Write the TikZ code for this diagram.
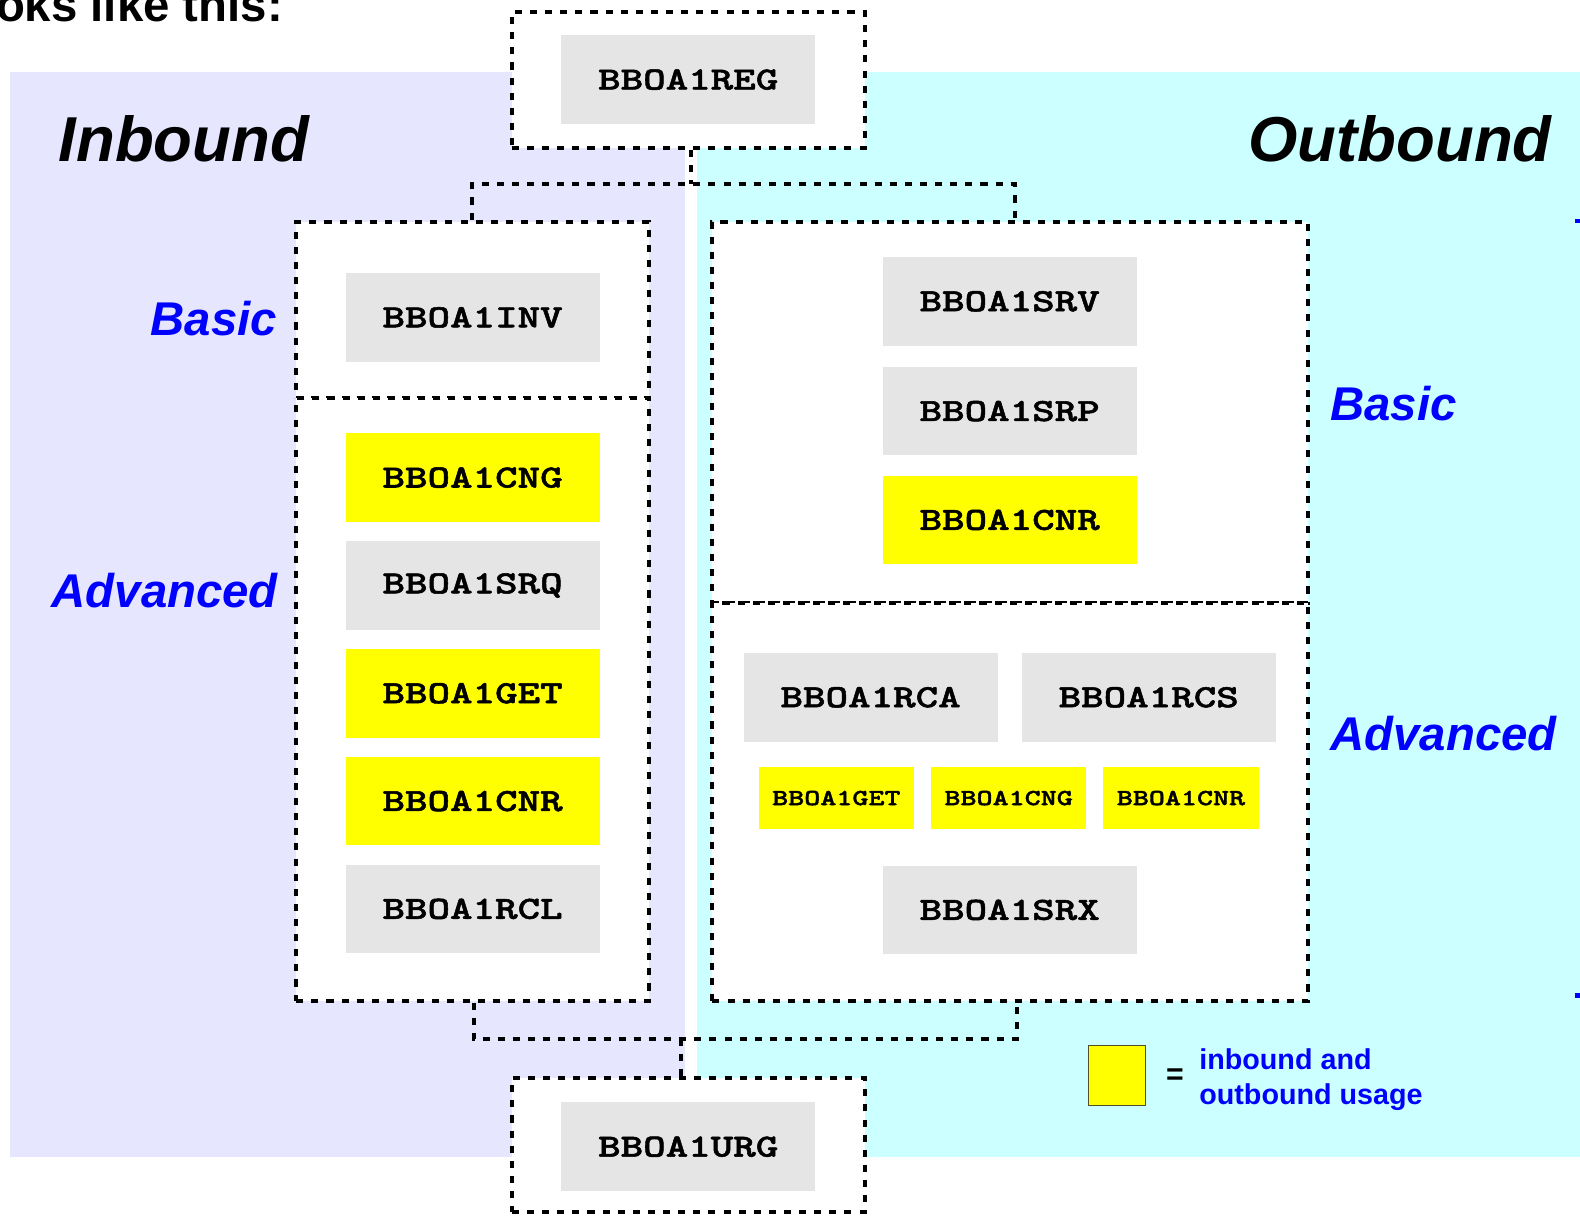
\documentclass[tikz,border=0pt]{standalone}
\usepackage{fontspec}
\setmainfont{Liberation Sans}
\newfontfamily\codefont{lmmonolt10-bold.otf}[FakeStretch=1.33,FakeBold=1.6]
\usetikzlibrary{calc}
\definecolor{inbg}{RGB}{230,230,255}
\definecolor{outbg}{RGB}{204,255,255}
\definecolor{modgray}{RGB}{229,229,229}
\definecolor{labelblue}{RGB}{0,0,255}
\definecolor{sharedyellow}{RGB}{255,255,0}
\definecolor{keyedge}{RGB}{80,80,40}

\begin{document}
\begin{tikzpicture}[x=1pt,y=-1pt,
  module/.style={fill=modgray, minimum width=252pt, minimum height=88pt, inner sep=0pt,
    font=\codefont\fontsize{32}{32}\selectfont},
  shared/.style={module, fill=sharedyellow},
  smallshared/.style={shared, minimum width=154pt, minimum height=62pt,
    font=\codefont\fontsize{22.8}{22.8}\selectfont},
  grp/.style={draw, fill=white, line width=4pt, dash pattern=on 7pt off 8pt, inner sep=0pt},
  link/.style={draw, line width=4pt, dash pattern=on 7pt off 8pt},
  side/.style={font=\bfseries\itshape\fontsize{63}{63}\selectfont},
  tier/.style={text=labelblue, font=\bfseries\itshape\fontsize{47}{47}\selectfont, inner sep=0pt},
]
\useasboundingbox (0,0) rectangle (1568,1206);

% heading fragment
\node[anchor=base east, inner sep=0pt, font=\bfseries\fontsize{47}{47}\selectfont] (heading) at (281,21) {oks like this:};

% inbound / outbound areas
\fill[inbg] (10,71) rectangle (680,1148);
\fill[outbg] (692,71) rectangle (1568,1148);

\node[side, anchor=base west, inner sep=0pt] (inbound) at (58,160) {Inbound};
\node[side, anchor=base east, inner sep=0pt] (outbound) at (1540,160) {Outbound};

% module groups
\node[grp, minimum width=350pt, minimum height=135pt] (regbox) at (683,79.5) {};
\node[grp, minimum width=350pt, minimum height=175pt] (inbasic) at (469,307.5) {};
\node[grp, minimum width=350pt, minimum height=598pt] (inadv) at (469,694) {};
\node[grp, minimum width=591pt, minimum height=378pt] (outbasic) at (1002.5,409) {};
\node[grp, minimum width=591pt, minimum height=395pt] (outadv) at (1002.5,795.5) {};
\node[grp, minimum width=350pt, minimum height=133pt] (urgbox) at (683,1136.5) {};

% connectors between groups
\coordinate (jtop) at (686,183);
\coordinate (jbot) at (676,1031);
\draw[link] (jtop |- regbox.south) -- (jtop);
\draw[link] ($(inbasic.north)+(-1,0)$) |- (jtop) -| ($(outbasic.north)+(4.5,0)$);
\draw[link] ($(inadv.south)+(1,0)$) |- (jbot) -| ($(outadv.south)+(6.5,0)$);
\draw[link] (jbot) -- (jbot |- urgbox.north);

% tier labels
\node[tier, anchor=base east] (inbasiclbl) at (275,333) {Basic};
\node[tier, anchor=base east] (inadvlbl) at (276,603) {Advanced};
\node[tier, anchor=base west] (outbasiclbl) at (1320,417) {Basic};
\node[tier, anchor=base west] (outadvlbl) at (1320,745) {Advanced};

% modules
\node[module] (reg) at (683,79) {BBOA1REG};

\node[module] (inv) at (469,315) {BBOA1INV};
\node[shared] (cngin) at (469,474) {BBOA1CNG};
\node[module] (srq) at (469,581) {BBOA1SRQ};
\node[shared] (getin) at (469,688) {BBOA1GET};
\node[shared] (cnrin) at (469,795) {BBOA1CNR};
\node[module] (rcl) at (469,902) {BBOA1RCL};

\node[module] (srv) at (1002,299) {BBOA1SRV};
\node[module] (srp) at (1002,408) {BBOA1SRP};
\node[shared] (cnrout) at (1002,516) {BBOA1CNR};
\node[module] (rca) at (864,692) {BBOA1RCA};
\node[module] (rcs) at (1140,692) {BBOA1RCS};
\node[smallshared] (getout) at (830,792) {BBOA1GET};
\node[smallshared] (cngout) at (1001,792) {BBOA1CNG};
\node[smallshared] (cnrout2) at (1172,792) {BBOA1CNR};
\node[module] (srx) at (1002,903) {BBOA1SRX};

\node[module] (urg) at (683,1138) {BBOA1URG};

% key
\node[draw=keyedge, line width=1pt, fill=sharedyellow, minimum width=57pt, minimum height=59pt, inner sep=0pt] (keybox) at (1108.5,1067.5) {};
\node[inner sep=0pt, font=\bfseries\fontsize{30}{30}\selectfont] (keyeq) at (1166,1068) {=};
\node[anchor=north west, inner sep=0pt, align=left, text=labelblue,
  font=\bfseries\fontsize{28.5}{34}\selectfont] (keytext) at (1190,1041) {inbound and\\outbound usage};

% brace ends at the right edge
\fill[labelblue] (1563,217) rectangle (1568,221);
\fill[labelblue] (1563,985) rectangle (1568,990);
\end{tikzpicture}
\end{document}
